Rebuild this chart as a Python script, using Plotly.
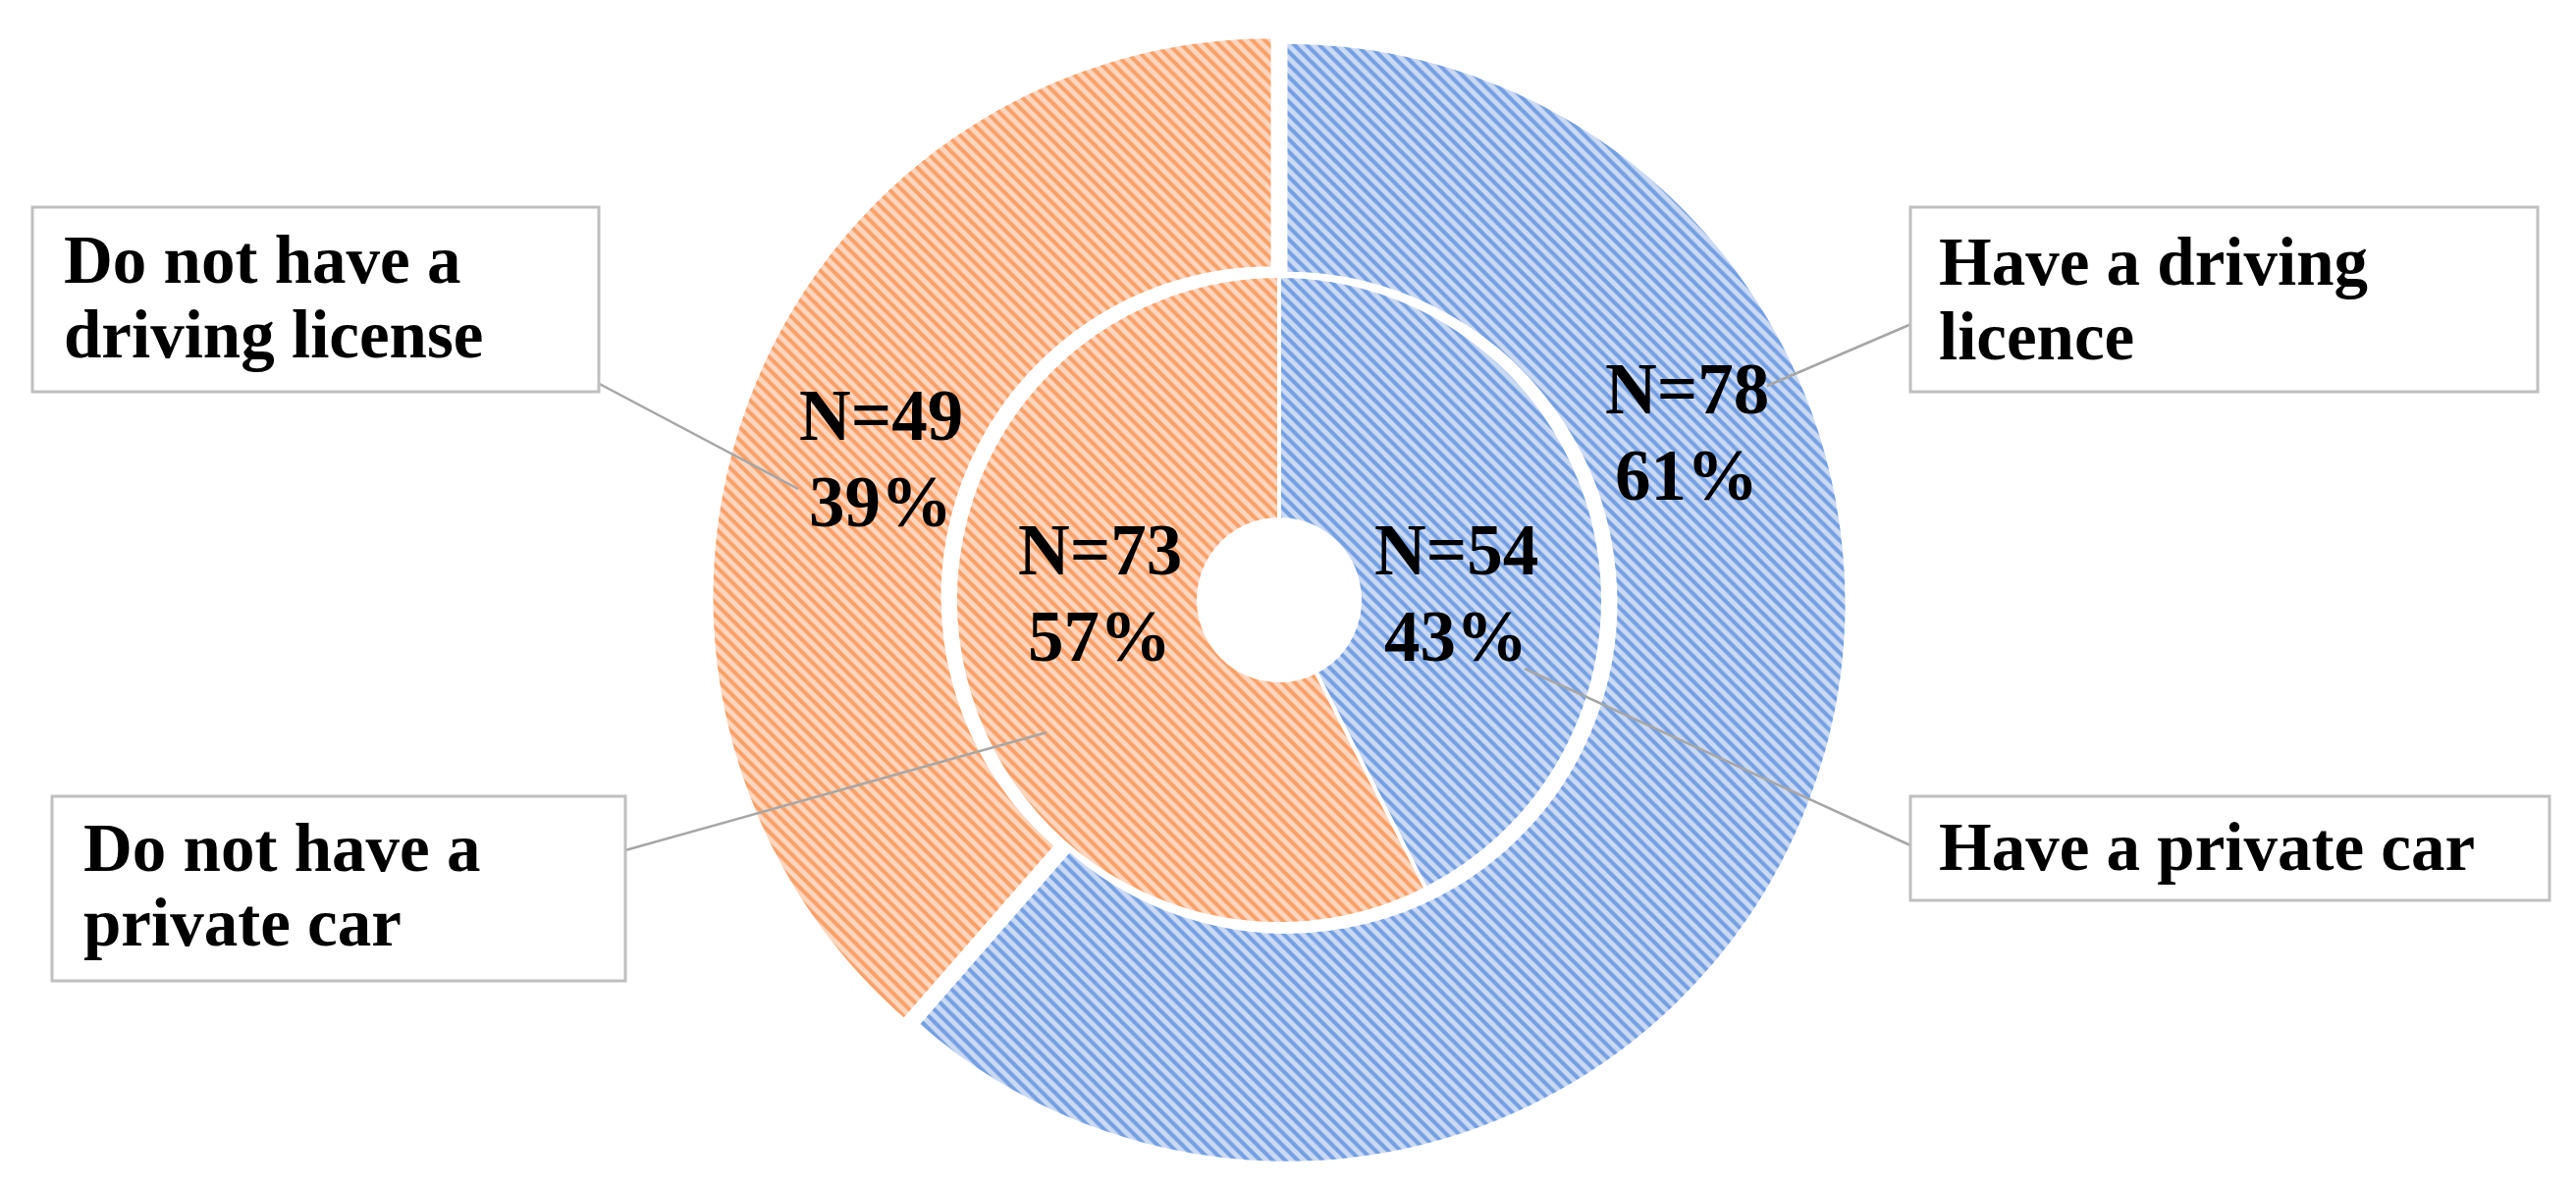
import plotly.graph_objects as go

W, H = 2624, 1211

# outer ring: driving licence
licence_labels = ["Have a driving<br>licence", "Do not have a<br>driving license"]
licence_counts = [78, 49]

# inner ring: private car
car_labels = ["Have a private car", "Do not have a<br>private car"]
car_counts = [54, 73]

fill_colors = ["#CBDAF3", "#FCD6BF"]
hatch_colors = ["#1E63D2", "#F36A12"]


def px(x):
    return x / W


def py(y):
    return 1 - y / H


def domain(cx, cy, r):
    return dict(x=[px(cx - r), px(cx + r)], y=[py(cy + r), py(cy - r)])


def pct_lines(values):
    total = sum(values)
    return [[f"N={v}", f"{round(100 * v / total)}%"] for v in values]


def add_line_text(text, x, baseline, size, xanchor):
    # one annotation per text line, so the line spacing can be set freely
    fig.add_annotation(x=px(x), y=py(baseline - 0.34 * size), xref="paper", yref="paper",
                       text=f"<b>{text}</b>", showarrow=False,
                       font=dict(family="Liberation Serif", size=size, color="black"),
                       xanchor=xanchor, yanchor="middle")


cx, cy = 1295, 603
outer_r, inner_r, hole_r = 570, 330, 82
pull = 0.014

fig = go.Figure()

fig.add_trace(go.Pie(
    labels=licence_labels, values=licence_counts,
    sort=False, direction="clockwise", rotation=0,
    hole=336 / outer_r, pull=pull,
    domain=domain(cx, cy, outer_r * (1 + pull)),
    textinfo="none",
    marker=dict(colors=fill_colors, line=dict(color="white", width=2),
                pattern=dict(shape="\\", fgcolor=hatch_colors, fillmode="overlay",
                             size=9, solidity=0.45)),
))

fig.add_trace(go.Pie(
    labels=car_labels, values=car_counts,
    sort=False, direction="clockwise", rotation=0,
    hole=hole_r / inner_r,
    domain=domain(cx, cy, inner_r),
    textinfo="none",
    marker=dict(colors=fill_colors, line=dict(color="white", width=4),
                pattern=dict(shape="\\", fgcolor=hatch_colors, fillmode="overlay",
                             size=9, solidity=0.45)),
))

# data labels inside the rings: centre x, baseline of first line
label_pos = [(1710, 413), (889, 440), (1475, 577), (1112, 577)]
for lines, (x, base) in zip(pct_lines(licence_counts) + pct_lines(car_counts), label_pos):
    for i, line in enumerate(lines):
        add_line_text(line, x, base + 88 * i, 73, "center")

# callout boxes, text start and leader lines
boxes = [(1938, 203, 2577, 391), (25, 203, 602, 391), (1938, 803, 2589, 909), (45, 803, 629, 991)]
text_pos = [(1965, 282), (55, 280), (1965, 878), (75, 879)]
leaders = [((1792, 385), (1939, 322)), ((597, 380), (805, 490)),
           ((1545, 673), (1938, 853)), ((629, 858), (1058, 738))]

for text, (x0, y0, x1, y1), (tx, tb), ((lx0, ly0), (lx1, ly1)) in zip(
        licence_labels + car_labels, boxes, text_pos, leaders):
    fig.add_shape(type="line", xref="paper", yref="paper",
                  x0=px(lx0), y0=py(ly0), x1=px(lx1), y1=py(ly1),
                  line=dict(color="#A6A6A6", width=2.5))
    fig.add_shape(type="rect", xref="paper", yref="paper",
                  x0=px(x0), y0=py(y1), x1=px(x1), y1=py(y0),
                  fillcolor="white", line=dict(color="#BFBFBF", width=3))
    for i, line in enumerate(text.split("<br>")):
        add_line_text(line, tx, tb + 76 * i, 69, "left")

fig.update_layout(
    width=W, height=H,
    margin=dict(l=0, r=0, t=0, b=0),
    paper_bgcolor="white", plot_bgcolor="white",
    showlegend=False,
)

fig.write_html("out.html")
